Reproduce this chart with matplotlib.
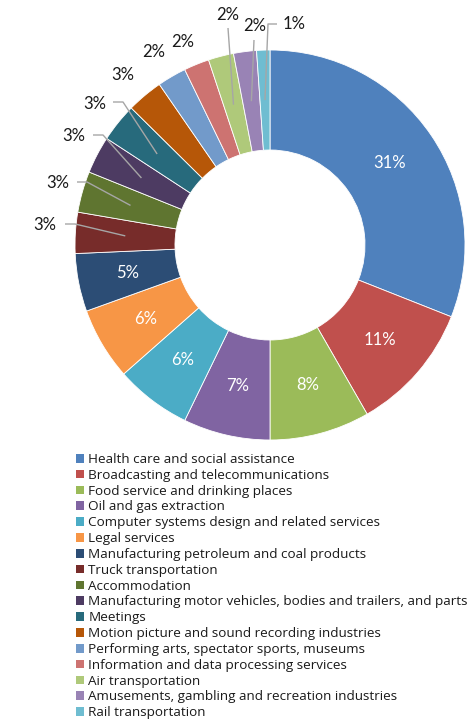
import numpy as np
import matplotlib
matplotlib.use("Agg")
import matplotlib.pyplot as plt
from matplotlib.patches import Patch

plt.rcParams["font.family"] = ["Lato", "DejaVu Sans"]

# Share of total, by industry (percent)
industries = [
    "Health care and social assistance",
    "Broadcasting and telecommunications",
    "Food service and drinking places",
    "Oil and gas extraction",
    "Computer systems design and related services",
    "Legal services",
    "Manufacturing petroleum and coal products",
    "Truck transportation",
    "Accommodation",
    "Manufacturing motor vehicles, bodies and trailers, and parts",
    "Meetings",
    "Motion picture and sound recording industries",
    "Performing arts, spectator sports, museums",
    "Information and data processing services",
    "Air transportation",
    "Amusements, gambling and recreation industries",
    "Rail transportation",
]
shares = [31.0, 10.7, 8.3, 7.2, 6.3, 6.0, 4.8, 3.4, 3.4, 3.1, 3.2, 3.0,
          2.4, 2.1, 2.1, 1.9, 1.1]
colors = ["#4F81BD", "#C0504D", "#9BBB59", "#8064A2", "#4BACC6", "#F79646",
          "#2C4D75", "#772C2A", "#5F7530", "#4D3B62", "#276A7C", "#B65708",
          "#729ACA", "#CD7371", "#AFC97A", "#9983B5", "#6FBDD1"]

W, H = 474, 722
fig = plt.figure(figsize=(W / 100, H / 100), dpi=100)
ax = fig.add_axes([0, 0, 1, 1])


def px(x, y):
    """Pixel position (origin top-left) to data coordinates."""
    return x, H - y


cx, cy = px(270, 245)
R_OUT, RING = 195, 100
wedges, _ = ax.pie(shares, colors=colors, startangle=90, counterclock=False,
                   radius=R_OUT, center=(cx, cy),
                   wedgeprops=dict(width=RING, edgecolor="white", linewidth=0.6))
ax.set_xlim(0, W)
ax.set_ylim(0, H)
ax.set_aspect("equal")
ax.axis("off")

r_mid = R_OUT - RING / 2


def mid_point(w, r):
    a = np.deg2rad((w.theta1 + w.theta2) / 2)
    return cx + r * np.cos(a), cy + r * np.sin(a)


n_inside = 7
# Placement of the outside labels: text position and leader line path (pixels)
outside = {
    7: dict(text=(45, 225), path=[(65, 224), (75, 224)]),
    8: dict(text=(58, 183), path=[(77, 182), (87, 182)]),
    9: dict(text=(74, 136), path=[(93, 135), (103, 135)]),
    10: dict(text=(95, 104), path=[(113, 102), (123, 102)]),
    11: dict(text=(123, 75), path=None),
    12: dict(text=(154, 52), path=None),
    13: dict(text=(183, 42), path=None),
    14: dict(text=(228, 15), path=[(228, 28)]),
    15: dict(text=(255, 26), path=[(254, 40)]),
    16: dict(text=(294, 24), path=[(277, 24), (268, 24)]),
}

for i, (w, v) in enumerate(zip(wedges, shares)):
    label = f"{v:.0f}%"
    if i < n_inside:
        x, y = mid_point(w, r_mid)
        ax.text(x, y, label, color="white", fontsize=12,
                ha="center", va="center")
    else:
        spec = outside[i]
        tx, ty = px(*spec["text"])
        ax.text(tx, ty, label, color="#1a1a1a", fontsize=12,
                ha="center", va="center")
        if spec["path"]:
            pts = [px(*p) for p in spec["path"]] + [mid_point(w, r_mid)]
            xs, ys = zip(*pts)
            ax.plot(xs, ys, color="#A6A6A6", lw=1.0, solid_capstyle="butt")

handles = [Patch(facecolor=c, edgecolor="none") for c in colors]
fig.legend(handles, industries, loc="upper left",
           bbox_to_anchor=(76 / W, 1 - 453 / H), frameon=False,
           prop=dict(family=["Open Sans", "DejaVu Sans"], size=9.7),
           handlelength=0.62, handleheight=0.62,
           handletextpad=0.28, labelspacing=0.21, borderpad=0,
           borderaxespad=0, labelcolor="#1a1a1a")

fig.savefig("out.png", dpi=100)
